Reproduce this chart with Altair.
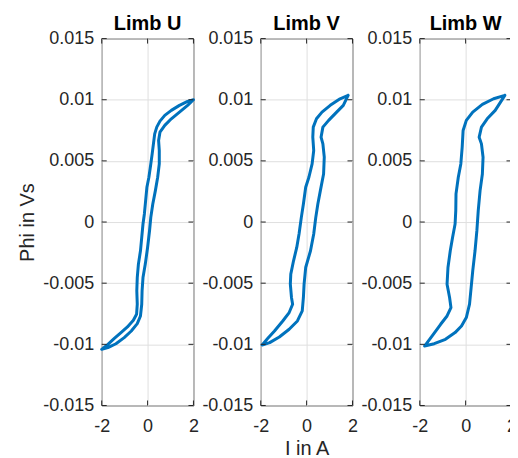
import altair as alt
import pandas as pd

phi_ticks = [-0.015, -0.01, -0.005, 0.0, 0.005, 0.01, 0.015]
i_ticks = [-2, 0, 2]
titles = ["Limb U", "Limb V", "Limb W"]

# Limb U loop: descending branch then ascending branch
u_i = [2.0, 1.745, 1.39, 1.035, 0.75, 0.54, 0.40, 0.31, 0.255, 0.20, 0.14, 0.057, -0.03,
       -0.085, -0.14, -0.2, -0.255, -0.31, -0.40, -0.45, -0.47, -0.45, -0.48, -0.62, -0.88,
       -1.16, -1.45, -1.73, -2.0,
       -1.73, -1.38, -1.02, -0.71, -0.45, -0.31, -0.255, -0.24, -0.2, -0.10, 0.0, 0.085,
       0.14, 0.227, 0.34, 0.44, 0.51, 0.51, 0.48, 0.54, 0.75, 1.035, 1.39, 1.745, 2.0]
u_phi = [0.0100, 0.00986, 0.00954, 0.00913, 0.00872, 0.00825, 0.00776, 0.00721, 0.00639,
         0.00557, 0.00475, 0.00366, 0.00284, 0.00175, 0.00066, -0.00016, -0.00126, -0.00235,
         -0.00344, -0.00454, -0.00563, -0.00672, -0.00754, -0.00803, -0.00858, -0.00904,
         -0.00951, -0.01000, -0.01041,
         -0.01027, -0.00995, -0.00945, -0.00891, -0.00831, -0.00768, -0.00672, -0.00563,
         -0.00454, -0.00344, -0.00208, -0.00071, 0.00038, 0.00148, 0.00257, 0.00366, 0.00475,
         0.00585, 0.00667, 0.00735, 0.00790, 0.00844, 0.00899, 0.00954, 0.0100]

# Limb V loop
v_i = [1.81, 1.46, 1.03, 0.67, 0.43, 0.29, 0.27, 0.31, 0.24, 0.10, -0.04, -0.14, -0.23,
       -0.33, -0.43, -0.57, -0.69, -0.71, -0.66, -0.61, -0.76, -1.04, -1.4, -1.69, -1.94,
       -1.61, -1.19, -0.76, -0.40, -0.19, -0.14, -0.11, -0.04, 0.17, 0.31, 0.40, 0.49, 0.6,
       0.74, 0.77, 0.71, 0.63, 0.71, 0.96, 1.31, 1.6, 1.81]
v_phi = [0.01036, 0.01008, 0.00954, 0.00899, 0.00844, 0.00776, 0.00694, 0.00585, 0.00475,
         0.00366, 0.00284, 0.00148, 0.00038, -0.00098, -0.00208, -0.00317, -0.00426,
         -0.00508, -0.00617, -0.00672, -0.0074, -0.00809, -0.00891, -0.00951, -0.01005,
         -0.00986, -0.0094, -0.00877, -0.00809, -0.00727, -0.00617, -0.00508, -0.00372,
         -0.00235, -0.00098, 0.00038, 0.00148, 0.00257, 0.00393, 0.0053, 0.00639, 0.00694,
         0.00776, 0.00831, 0.00899, 0.00954, 0.01036]

# Limb W loop
w_i = [1.71, 1.22, 0.73, 0.31, 0.03, -0.11, -0.15, -0.21, -0.32, -0.42, -0.43, -0.46,
       -0.57, -0.67, -0.77, -0.81, -0.70, -0.64, -0.81, -1.09, -1.41, -1.79,
       -1.37, -0.88, -0.46, -0.18, 0.03, 0.17, 0.24, 0.31, 0.41, 0.49, 0.55, 0.63, 0.73,
       0.76, 0.69, 0.59, 0.69, 0.94, 1.29, 1.71]
w_phi = [0.01036, 0.01008, 0.00962, 0.00899, 0.00831, 0.00749, 0.00612, 0.00475, 0.00366,
         0.0023, 0.00093, -0.00016, -0.00126, -0.00235, -0.00372, -0.00508, -0.00617,
         -0.007, -0.00768, -0.00836, -0.00918, -0.01014,
         -0.00995, -0.00959, -0.00904, -0.0085, -0.00781, -0.00672, -0.00536, -0.00399,
         -0.00235, -0.00071, 0.00093, 0.00257, 0.00393, 0.0053, 0.00639, 0.00694, 0.00776,
         0.00844, 0.00913, 0.01036]

W, H = 92, 368
BLUE = "#0072BD"
INK = "#262626"
FONT = "Liberation Sans"
LABEL_EXPR = "datum.value < 0 ? '-' + format(-datum.value, '~g') : format(datum.value, '~g')"


def panel(i_vals, phi_vals, title, ytitle=False, xtitle=False):
    df = pd.DataFrame({"I": i_vals, "Phi": phi_vals, "k": list(range(len(i_vals)))})
    xs = alt.Scale(domain=[-2, 2], nice=False, zero=False)
    ys = alt.Scale(domain=[-0.015, 0.015], nice=False, zero=False)
    xkw = dict(values=i_ticks, labelExpr=LABEL_EXPR, ticks=False, tickSize=0,
               labelPadding=26, labelBaseline="alphabetic", domain=False, grid=True,
               labelFlush=False)
    if xtitle:
        xkw.update(title="I in A", titleY=49, titleBaseline="alphabetic")
    else:
        xkw.update(title=None)
    ykw = dict(values=phi_ticks, labelExpr=LABEL_EXPR, ticks=False, tickSize=0,
               labelPadding=8, domain=False, grid=True, labelFlush=False)
    if ytitle:
        ykw.update(title="Phi in Vs", titleX=-68.8, titleY=H / 2, titleAngle=270,
                   titleBaseline="alphabetic", titleAlign="center")
    else:
        ykw.update(title=None)
    xaxis = alt.Axis(**xkw)
    yaxis = alt.Axis(**ykw)

    line = alt.Chart(df).mark_line(
        color=BLUE, strokeWidth=3, strokeJoin="round", strokeCap="round"
    ).encode(
        x=alt.X("I:Q", scale=xs, axis=xaxis),
        y=alt.Y("Phi:Q", scale=ys, axis=yaxis),
        order="k:Q",
    )
    yt = pd.DataFrame({"Phi": phi_ticks})
    xt = pd.DataFrame({"I": i_ticks})
    lt = alt.Chart(yt).mark_rule(color=INK, strokeWidth=1).encode(
        y=alt.Y("Phi:Q", scale=ys, axis=yaxis), x=alt.value(0), x2=alt.value(5))
    rt = alt.Chart(yt).mark_rule(color=INK, strokeWidth=1).encode(
        y=alt.Y("Phi:Q", scale=ys, axis=yaxis), x=alt.value(W - 5), x2=alt.value(W))
    bt = alt.Chart(xt).mark_rule(color=INK, strokeWidth=1).encode(
        x=alt.X("I:Q", scale=xs, axis=xaxis), y=alt.value(H - 5), y2=alt.value(H))
    tt = alt.Chart(xt).mark_rule(color=INK, strokeWidth=1).encode(
        x=alt.X("I:Q", scale=xs, axis=xaxis), y=alt.value(0), y2=alt.value(5))
    ttl = alt.Chart(pd.DataFrame({"t": [title]})).mark_text(
        font=FONT, fontSize=20, fontWeight="bold", color="#000000",
        align="center", baseline="alphabetic"
    ).encode(text="t:N", x=alt.value(W / 2), y=alt.value(-9))
    return alt.layer(line, lt, rt, bt, tt, ttl).properties(width=W, height=H)


p1 = panel(u_i, u_phi, titles[0], ytitle=True)
p2 = panel(v_i, v_phi, titles[1], xtitle=True)
p3 = panel(w_i, w_phi, titles[2])

chart = alt.hconcat(p1, p2, p3, spacing=67.5, bounds="flush").properties(
    padding={"left": 8, "top": 4, "right": -7.5, "bottom": 0}
).configure_view(
    stroke=INK, strokeWidth=1
).configure_axis(
    labelFont=FONT, labelFontSize=18, labelColor=INK,
    titleFont=FONT, titleFontSize=20, titleFontWeight="normal", titleColor=INK,
    gridColor="#dfdfdf", gridWidth=1, gridOpacity=1,
)

chart.save("out.html", embed_options={"renderer": "svg", "actions": False})
